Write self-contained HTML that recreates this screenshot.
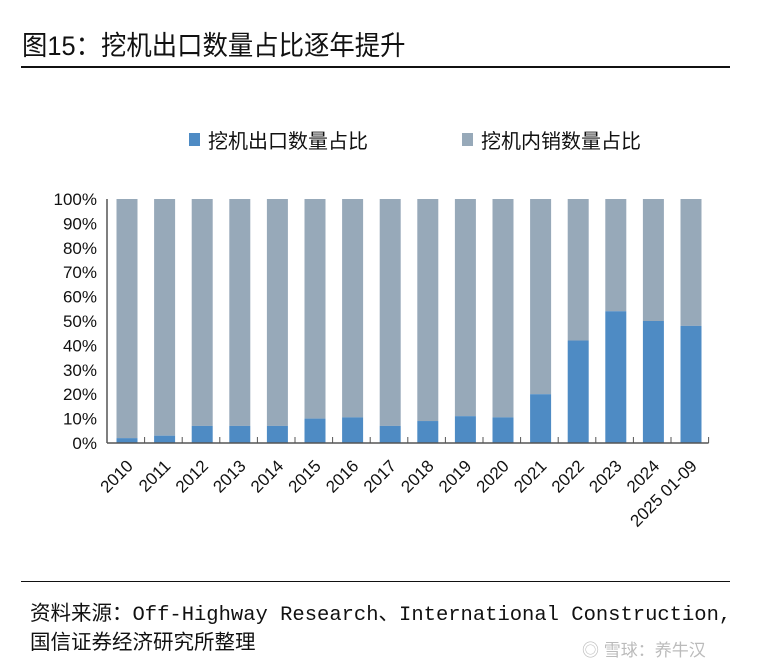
<!DOCTYPE html>
<html><head><meta charset="utf-8"><style>
body{margin:0;background:#fff;width:760px;height:672px;overflow:hidden;font-family:"Liberation Sans","Noto Sans CJK SC",sans-serif;position:relative}
.t{position:absolute;left:22px;top:24px;font-size:27px;color:#111;font-family:"Liberation Sans","WenQuanYi Zen Hei",sans-serif;transform:scaleX(0.94);transform-origin:left}
.hr{position:absolute;left:21px;width:709px;height:2px;background:#111}
.src{position:absolute;left:30px;font-size:20.5px;color:#111;font-family:"Liberation Mono","Noto Sans CJK SC",monospace;white-space:nowrap}
</style></head><body>
<div class="t">图15：挖机出口数量占比逐年提升</div>
<div class="hr" style="top:66px"></div>
<svg id="c" width="760" height="672" style="position:absolute;left:0;top:0"></svg>
<div class="hr" style="top:581px;height:1px"></div>
<div class="src" style="top:596px">资料来源：Off-Highway Research、International Construction,</div>
<div class="src" style="top:625px">国信证券经济研究所整理</div>
<div style="position:absolute;left:582px;top:636px;font-size:17px;color:#bbb">◎ 雪球：养牛汉</div>
<script>
const categories=["2010","2011","2012","2013","2014","2015","2016","2017","2018","2019","2020","2021","2022","2023","2024","2025 01-09"];
const exportShare=[2,3,7,7,7,10,10.5,7,9,11,10.5,20,42,54,50,48];
const yTicks=[0,10,20,30,40,50,60,70,80,90,100];
const NS="http://www.w3.org/2000/svg",svg=document.getElementById('c');
const X0=107,Y0=443,Y100=199,step=37.6,bw=21;
const y=v=>Y0-(Y0-Y100)*v/100, xc=i=>X0+step*i+9.5;
function mk(t,a,p){const e=document.createElementNS(NS,t);for(const k in a)e.setAttribute(k,a[k]);(p||svg).appendChild(e);return e;}
yTicks.forEach(v=>{const e=mk('text',{x:97,y:y(v)+6,'text-anchor':'end','font-size':17,fill:'#111','font-family':'Liberation Sans'});e.textContent=v+'%';

});
categories.forEach((c,i)=>{
 const v=exportShare[i];
 const d=mk('rect',{x:xc(i),y:Y100,width:bw,height:y(v)-Y100,fill:'#97a9b9'});
 
 
 const r=mk('rect',{x:xc(i),y:y(v),width:bw,height:Y0-y(v),fill:'#4e8bc4'});
 
 
 const tx=X0+step*(i+1);
 mk('line',{x1:tx,x2:tx,y1:Y0,y2:Y0-6,stroke:'#555','stroke-width':1});
 const cx=xc(i)+bw/2+7;
 const t=mk('text',{x:cx,y:Y0+24,'text-anchor':'end','font-size':17,fill:'#111','font-family':'Liberation Sans',transform:`rotate(-45 ${cx} ${Y0+24})`});
 t.textContent=c;
 
 
});
mk('line',{x1:X0,x2:X0,y1:Y100,y2:Y0,stroke:'#555','stroke-width':1.5});
mk('line',{x1:X0,x2:X0+step*16,y1:Y0,y2:Y0,stroke:'#555','stroke-width':1.5});
const lg=[["挖机出口数量占比","#4e8bc4",189],["挖机内销数量占比","#97a9b9",462]];
lg.forEach(l=>{const g=mk('g',{});


mk('rect',{x:l[2],y:133,width:11,height:13,fill:l[1]},g);
const t=mk('text',{x:l[2]+19,y:148,'font-size':20,fill:'#111','font-family':'Liberation Sans, Noto Sans CJK SC, sans-serif'},g);t.textContent=l[0];});
</script>
</body></html>
